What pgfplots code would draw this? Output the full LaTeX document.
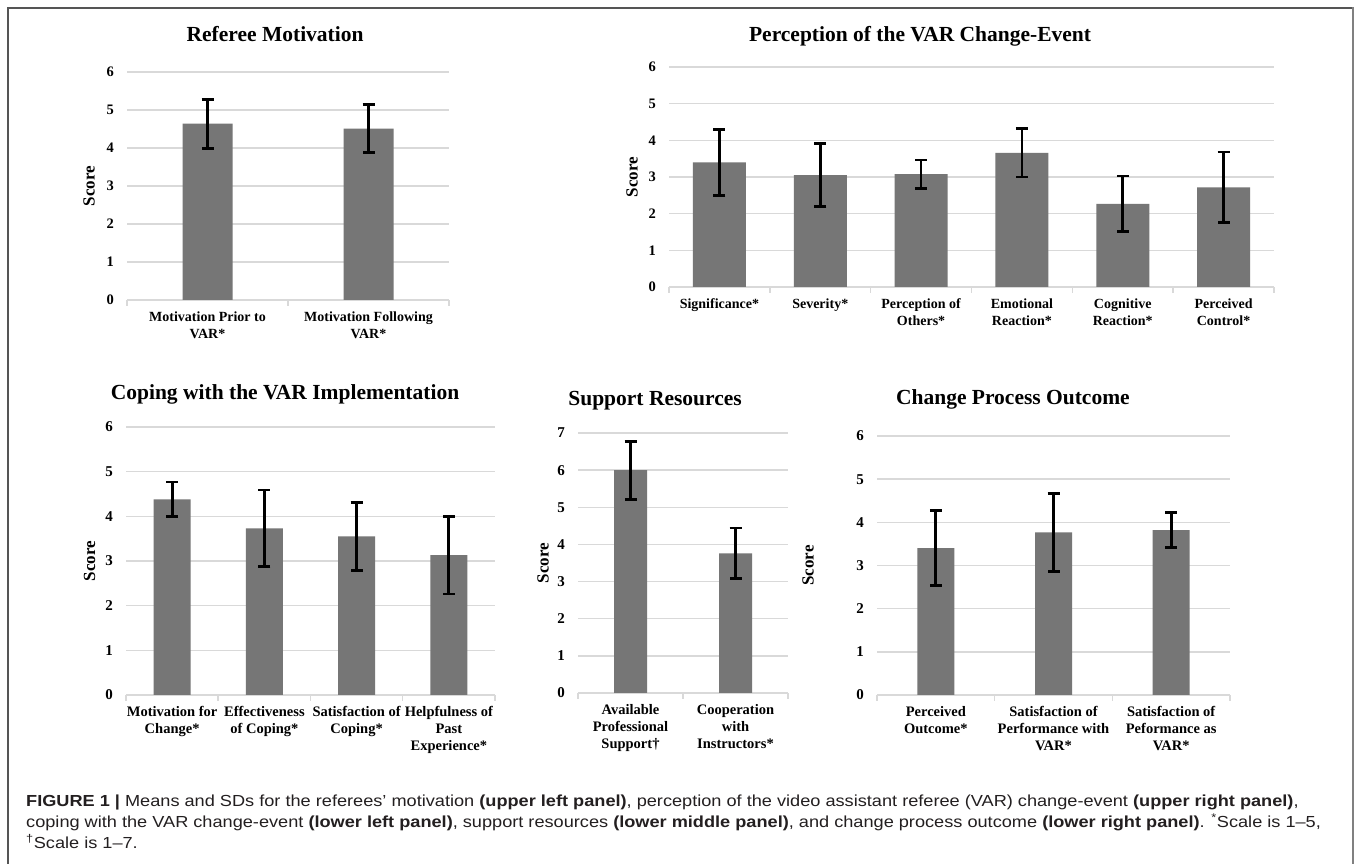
\documentclass[border=0pt]{standalone}
\usepackage{pgfplots}
\pgfplotsset{compat=1.18}
\usepackage{fontspec}
\setmainfont{Liberation Serif}
\newfontfamily\capfont{Liberation Sans}
\definecolor{barcol}{RGB}{118,118,118}
\definecolor{gridcol}{RGB}{217,217,217}
\definecolor{framecol}{RGB}{85,85,85}
\definecolor{captxt}{RGB}{35,31,32}

\pgfplotsset{
  every axis title shift=0pt,
  vpanel/.style={
    scale only axis, anchor=south west, ybar, clip=false,
    enlargelimits=false, ymin=0,
    axis x line*=bottom, axis y line*=left,
    x axis line style={-, draw=gridcol, line width=1.5pt},
    y axis line style={draw=none},
    ymajorgrids, grid style={draw=gridcol, line width=1.5pt},
    major tick length=0pt, minor tick length=6pt, tick align=outside,
    ytick style={draw=none},
    minor x tick style={draw=gridcol, line width=1.5pt},
    /pgf/number format/assume math mode=true,
    yticklabel style={font=\bfseries\fontsize{14.5}{16}\selectfont, xshift=-9.5pt},
    xticklabel style={font=\bfseries\fontsize{14}{17}\selectfont, align=center, yshift=-8pt},
    title style={font=\bfseries\fontsize{21.5}{24}\selectfont, anchor=base},
    ylabel={Score},
    ylabel style={font=\bfseries\fontsize{17}{20}\selectfont, anchor=center},
    error bars/y dir=both, error bars/y explicit,
    error bars/error bar style={black, line width=2.8pt},
    error bars/error mark options={black, rotate=90, mark size=6pt, line width=2.8pt},
  },
  bars/.style={fill=barcol, draw=none},
}

\begin{document}
\begin{tikzpicture}[x=1pt,y=1pt]
\useasboundingbox (0,0) rectangle (1358,864);
\fill[white] (0,0) rectangle (1358,864);

% Panel 1: Referee Motivation
\begin{axis}[vpanel, at={(127pt,564pt)}, width=322pt, height=228pt,
  xmin=-0.5, xmax=1.5, ymax=6, ytick={0,...,6},
  xtick={0,1}, minor xtick={-0.5,0.5,1.5},
  xticklabels={{Motivation Prior to\\VAR*},{Motivation Following\\VAR*}},
  bar width=50pt,
  title={Referee Motivation}, title style={at={(axis description cs:0.46,1.132)}},
  ylabel style={at={(axis description cs:-0.118,0.5)}}]
\addplot[bars] coordinates {(0,4.64) +- (0,0.645) (1,4.51) +- (0,0.63)};
\end{axis}

% Panel 2: Perception of the VAR Change-Event
\begin{axis}[vpanel, at={(669pt,577pt)}, width=605pt, height=220pt,
  xmin=-0.5, xmax=5.5, ymax=6, ytick={0,...,6},
  xtick={0,...,5}, minor xtick={-0.5,0.5,1.5,2.5,3.5,4.5,5.5},
  xticklabels={{Significance*},{Severity*},{Perception of\\Others*},{Emotional\\Reaction*},{Cognitive\\Reaction*},{Perceived\\Control*}},
  bar width=53pt,
  title={Perception of the VAR Change-Event}, title style={at={(axis description cs:0.415,1.118)}},
  ylabel style={at={(axis description cs:-0.0612,0.5)}}]
\addplot[bars] coordinates {(0,3.40) +- (0,0.90) (1,3.05) +- (0,0.86) (2,3.08) +- (0,0.385)
  (3,3.66) +- (0,0.66) (4,2.27) +- (0,0.755) (5,2.72) +- (0,0.96)};
\end{axis}

% Panel 3: Coping with the VAR Implementation
\begin{axis}[vpanel, at={(126pt,169pt)}, width=369pt, height=268pt,
  xmin=-0.5, xmax=3.5, ymax=6, ytick={0,...,6},
  xtick={0,...,3}, minor xtick={-0.5,0.5,1.5,2.5,3.5},
  xticklabel style={font=\bfseries\fontsize{14.5}{17}\selectfont},
  yticklabel style={font=\bfseries\fontsize{15}{16}\selectfont},
  xticklabels={{Motivation for\\Change*},{Effectiveness\\of Coping*},{Satisfaction of\\Coping*},{Helpfulness of\\Past\\Experience*}},
  bar width=37pt,
  title={Coping with the VAR Implementation}, title style={at={(axis description cs:0.431,1.101)}},
  ylabel style={at={(axis description cs:-0.0989,0.5)}}]
\addplot[bars] coordinates {(0,4.38) +- (0,0.39) (1,3.73) +- (0,0.86) (2,3.55) +- (0,0.76) (3,3.13) +- (0,0.87)};
\end{axis}

% Panel 4: Support Resources
\begin{axis}[vpanel, at={(578pt,171pt)}, width=210pt, height=260pt,
  xmin=-0.5, xmax=1.5, ymax=7, ytick={0,...,7},
  xtick={0,1}, minor xtick={-0.5,0.5,1.5},
  xticklabel style={font=\bfseries\fontsize{14.5}{17}\selectfont},
  yticklabel style={font=\bfseries\fontsize{15}{16}\selectfont},
  xticklabels={{Available\\Professional\\Support\textdagger},{Cooperation\\with\\Instructors*}},
  bar width=33pt,
  title={Support Resources}, title style={at={(axis description cs:0.367,1.104)}},
  ylabel style={at={(axis description cs:-0.1667,0.5)}}]
\addplot[bars] coordinates {(0,6.00) +- (0,0.78) (1,3.76) +- (0,0.68)};
\end{axis}

% Panel 5: Change Process Outcome
\begin{axis}[vpanel, at={(877pt,169pt)}, width=353pt, height=259pt,
  xmin=-0.5, xmax=2.5, ymax=6, ytick={0,...,6},
  xtick={0,1,2}, minor xtick={-0.5,0.5,1.5,2.5},
  xticklabel style={font=\bfseries\fontsize{14.5}{17}\selectfont},
  yticklabel style={font=\bfseries\fontsize{15}{16}\selectfont},
  xticklabels={{Perceived\\Outcome*},{Satisfaction of\\Performance with\\VAR*},{Satisfaction of\\Peformance as\\VAR*}},
  bar width=37pt,
  title={Change Process Outcome}, title style={at={(axis description cs:0.385,1.120)}},
  ylabel style={at={(axis description cs:-0.1955,0.5)}}]
\addplot[bars] coordinates {(0,3.40) +- (0,0.865) (1,3.77) +- (0,0.905) (2,3.82) +- (0,0.41)};
\end{axis}

% Frame
\draw[framecol, line width=1.5pt] (8,0) -- (8,856) -- (1353,856);
\draw[gray, line width=2.5pt] (1353,856.75) -- (1353,0);

% Caption
\begin{scope}[every node/.style={anchor=base west, inner sep=0pt, text=captxt, font=\capfont\fontsize{16}{19}\selectfont}]
\node at (26,57) {\scalebox{1.135}[1]{\textbf{FIGURE 1 |} Means and SDs for the referees’ motivation \textbf{(upper left panel)}, perception of the video assistant referee (VAR) change-event \textbf{(upper right panel)},}};
\node at (26,36) {\scalebox{1.135}[1]{coping with the VAR change-event \textbf{(lower left panel)}, support resources \textbf{(lower middle panel)}, and change process outcome \textbf{(lower right panel)}. \textsuperscript{*}Scale is 1–5,}};
\node at (26,15) {\scalebox{1.135}[1]{\textsuperscript{†}Scale is 1–7.}};
\end{scope}
\end{tikzpicture}
\end{document}
